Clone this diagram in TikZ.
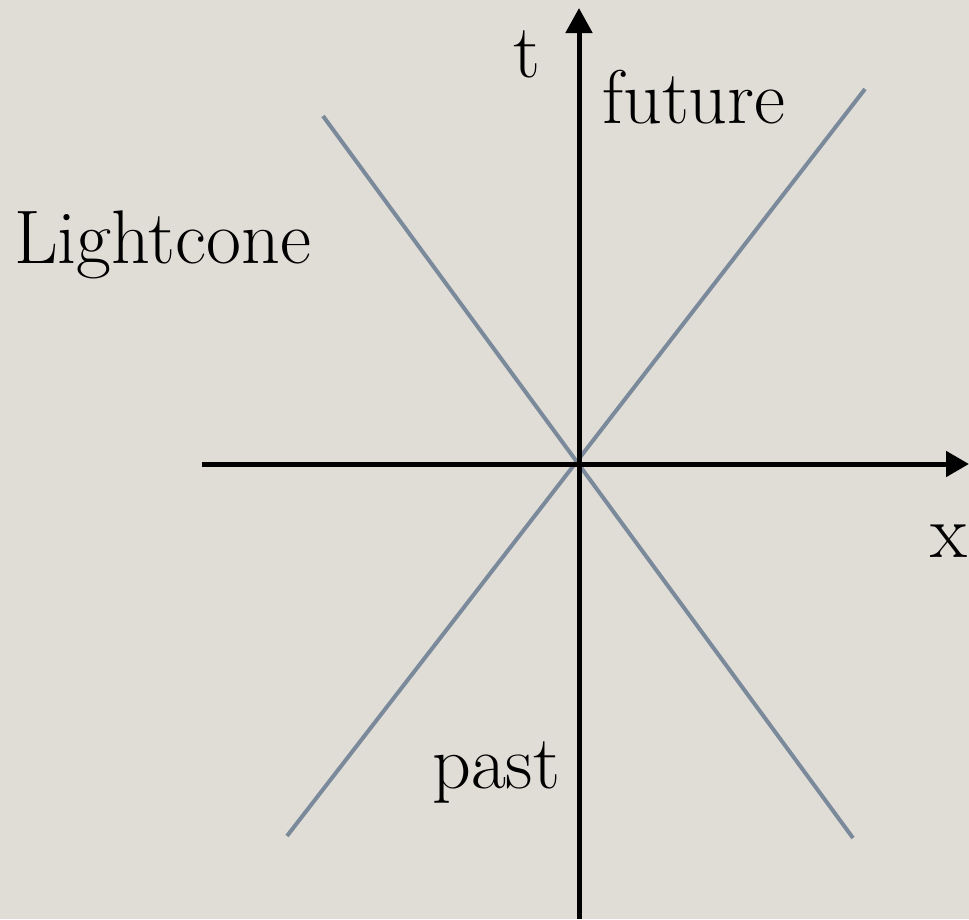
\documentclass[tikz,border=0pt]{standalone}
\usepackage{fontspec}
\usetikzlibrary{arrows.meta}
\definecolor{paper}{RGB}{224,221,215}
\definecolor{conegrey}{RGB}{122,138,155}
\begin{document}
\begin{tikzpicture}[x=1pt,y=-1pt,
  axis/.style={line width=5pt,black},
  coneline/.style={line width=4pt,conegrey},
  lbl/.style={anchor=base west,inner sep=0pt,font=\fontsize{76}{86}\selectfont}]
\fill[paper] (0,0) rectangle (969,919);
\useasboundingbox (0,0) rectangle (969,919);
% axes
\coordinate (tbot) at (579,919);
\coordinate (ttop) at (579,8);
\coordinate (xleft) at (202,464);
\coordinate (xright) at (969,464);
% cone lines
\coordinate (a1) at (323,116);
\coordinate (a2) at (853,838);
\coordinate (b1) at (287,836);
\coordinate (b2) at (865,89);
\draw[coneline] (a1) -- (a2);
\draw[coneline] (b1) -- (b2);
\draw[axis,-{Triangle[length=25pt,width=26pt]}] (tbot) -- (ttop);
\draw[axis,-{Triangle[length=23pt,width=25pt]}] (xleft) -- (xright);
% labels
\node[lbl] (tl) at (513,77) {t};
\node[lbl] (fut) at (602,123) {future};
\node[lbl] (lc) at (14,263) {Lightcone};
\node[lbl] (past) at (432,788) {past};
\node[lbl] (xl) at (930,557) {x};
\end{tikzpicture}
\end{document}
